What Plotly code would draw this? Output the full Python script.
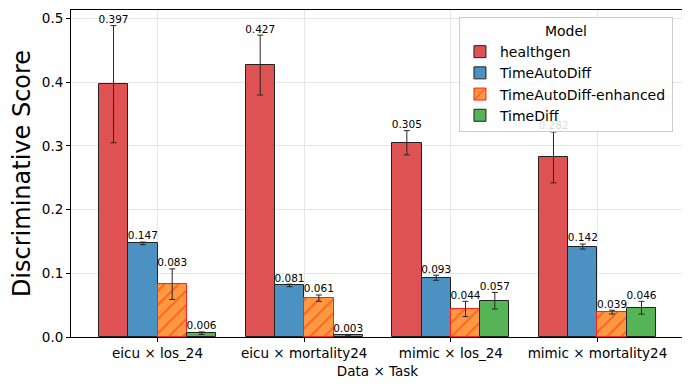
import numpy as np
import plotly.graph_objects as go

tasks = ['eicu × los_24', 'eicu × mortality24', 'mimic × los_24', 'mimic × mortality24']
models = ['healthgen', 'TimeAutoDiff', 'TimeAutoDiff-enhanced', 'TimeDiff']

scores = {
    'healthgen': [0.397, 0.427, 0.305, 0.282],
    'TimeAutoDiff': [0.147, 0.081, 0.093, 0.142],
    'TimeAutoDiff-enhanced': [0.083, 0.061, 0.044, 0.039],
    'TimeDiff': [0.006, 0.003, 0.057, 0.046],
}
errors = {
    'healthgen': [0.092, 0.047, 0.019, 0.040],
    'TimeAutoDiff': [0.002, 0.002, 0.004, 0.004],
    'TimeAutoDiff-enhanced': [0.024, 0.005, 0.012, 0.003],
    'TimeDiff': [0.002, 0.001, 0.013, 0.010],
}

colors = {
    'healthgen': '#de5253',
    'TimeAutoDiff': '#4b92c3',
    'TimeAutoDiff-enhanced': '#ff993e',
    'TimeDiff': '#56b356',
}

width = 0.2
x = np.arange(len(tasks))

fig = go.Figure()
for i, m in enumerate(models):
    xs = x + (i - 1.5) * width
    vals = np.array(scores[m])
    errs = np.array(errors[m])
    hatched = m == 'TimeAutoDiff-enhanced'
    marker = dict(
        color=colors[m],
        line=dict(color='#ff2020' if hatched else '#222222', width=1),
    )
    if hatched:
        marker['pattern'] = dict(shape='/', fgcolor='#ff1a1a', size=10, solidity=0.18)
    fig.add_trace(go.Bar(
        x=xs, y=vals, width=width, name=m, marker=marker,
        error_y=dict(type='data', array=errs, color='#262626', thickness=1, width=3),
    ))
    fig.add_trace(go.Scatter(
        x=xs, y=vals + errs, mode='text', text=[f'{v:.3f}' for v in vals],
        textposition='top center', textfont=dict(size=10.5, color='black'),
        showlegend=False, hoverinfo='skip', cliponaxis=False,
    ))

# page body has an 8px margin, so the figure is a bit smaller than the window
fig.update_layout(
    width=682, height=382,
    margin=dict(l=63, r=6, t=2, b=53),
    plot_bgcolor='white', paper_bgcolor='white',
    font=dict(family='DejaVu Sans', size=13.5, color='black'),
    bargap=0, showlegend=True,
    legend=dict(
        title=dict(text='Model', side='top center', font=dict(size=14)),
        x=0.982, y=0.979, xanchor='right', yanchor='top',
        bgcolor='rgba(255,255,255,0.85)', bordercolor='#cccccc', borderwidth=1,
        font=dict(size=14), tracegroupgap=0,
    ),
)
fig.update_xaxes(
    tickvals=x, ticktext=tasks, range=[-0.59, 3.59], automargin=False,
    title=dict(text='Data × Task', font=dict(size=13.5), standoff=6),
    showline=True, linecolor='black', mirror=True,
    ticks='outside', ticklen=4, tickcolor='black',
    showgrid=True, gridcolor='#e6e6e6', zeroline=False,
)
fig.update_yaxes(
    range=[0, 0.5135], tickvals=[0, 0.1, 0.2, 0.3, 0.4, 0.5], tickformat='.1f', automargin=False,
    title=dict(text='Discriminative Score', font=dict(size=24), standoff=8),
    showline=True, linecolor='black', mirror=True,
    ticks='outside', ticklen=4, tickcolor='black',
    showgrid=True, gridcolor='#e6e6e6', zeroline=False,
)

fig.write_html('out.html')
